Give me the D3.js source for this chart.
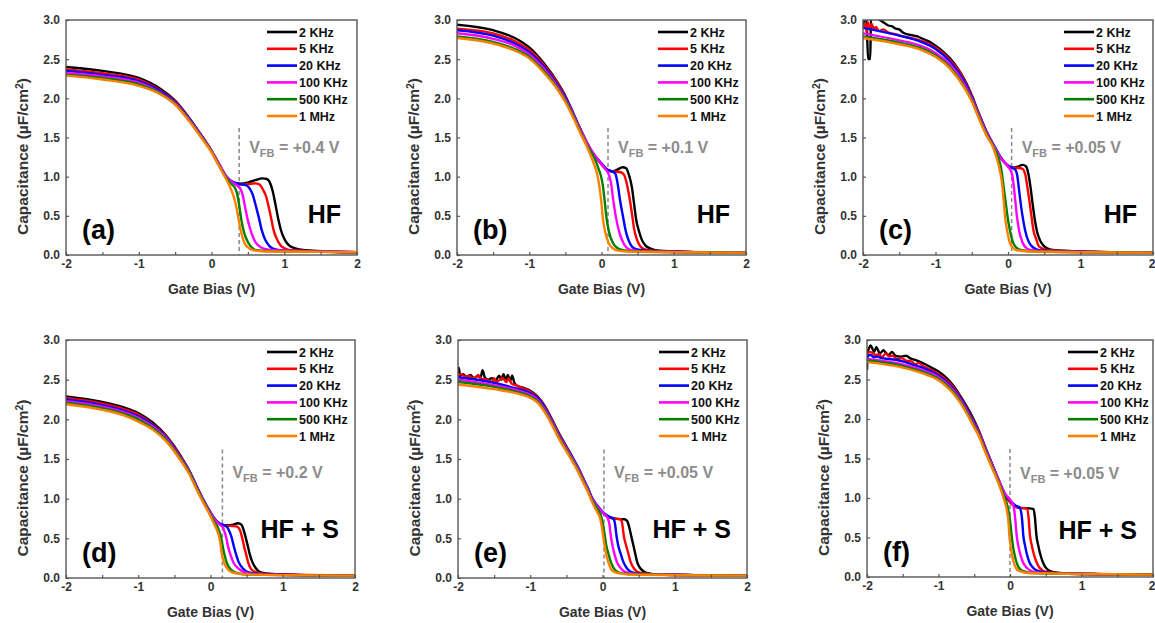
<!DOCTYPE html>
<html>
<head>
<meta charset="utf-8">
<script src="https://cdn.jsdelivr.net/npm/d3@7"></script>
<style>
  body { margin: 0; background: #fff; }
  svg text { font-family: "Liberation Sans", Arial, sans-serif; font-weight: bold; }
</style>
</head>
<body>
<svg id="fig" width="1155" height="623"></svg>
<script>
// legend / series info
var freqLabels = ["2 KHz", "5 KHz", "20 KHz", "100 KHz", "500 KHz", "1 MHz"];
var freqColors = ["#000000", "#ff0000", "#0000ff", "#ff00ff", "#008000", "#ff8000"];

var panelLetters = ["(a)", "(b)", "(c)", "(d)", "(e)", "(f)"];
var treatments = ["HF", "HF", "HF", "HF + S", "HF + S", "HF + S"];
var vfbLabels = ["+0.4 V", "+0.1 V", "+0.05 V", "+0.2 V", "+0.05 V", "+0.05 V"];
var vfbLinePos = [0.38, 0.09, 0.05, 0.165, 0.02, 0.0];   // where the dashed line sits

var xTicks = [-2, -1.5, -1, -0.5, 0, 0.5, 1, 1.5, 2];
var yTicks = [0, 0.5, 1, 1.5, 2, 2.5, 3];

// C-V curves, [gate bias (V), capacitance (uF/cm2)], order 2K,5K,20K,100K,500K,1M
var curvesA = [
  [[-2,2.40],[-1.5,2.35],[-1,2.26],[-0.7,2.12],[-0.5,1.97],[-0.3,1.74],[-0.15,1.54],[0,1.33],[0.1,1.16],[0.2,1.00],[0.3,0.925],[0.4,0.91],[0.5,0.925],[0.6,0.955],[0.7,0.978],[0.76,0.97],[0.8,0.93],[0.84,0.82],[0.88,0.64],[0.92,0.45],[0.96,0.3],[1.01,0.19],[1.07,0.12],[1.15,0.085],[1.3,0.06],[1.6,0.045],[2,0.035]],
  [[-2,2.37],[-1.5,2.32],[-1,2.24],[-0.7,2.10],[-0.5,1.96],[-0.3,1.73],[-0.15,1.54],[0,1.33],[0.1,1.16],[0.2,1.00],[0.3,0.925],[0.4,0.90],[0.5,0.905],[0.6,0.915],[0.66,0.90],[0.71,0.83],[0.75,0.75],[0.78,0.64],[0.82,0.47],[0.85,0.33],[0.9,0.2],[0.95,0.12],[1.02,0.08],[1.1,0.06],[1.5,0.045],[2,0.035]],
  [[-2,2.35],[-1.5,2.30],[-1,2.22],[-0.7,2.09],[-0.5,1.95],[-0.3,1.73],[-0.15,1.54],[0,1.33],[0.1,1.17],[0.2,1.01],[0.3,0.93],[0.4,0.905],[0.48,0.89],[0.53,0.84],[0.57,0.76],[0.6,0.66],[0.65,0.48],[0.69,0.32],[0.74,0.19],[0.8,0.11],[0.88,0.07],[1.0,0.055],[1.5,0.045],[2,0.035]],
  [[-2,2.32],[-1.5,2.28],[-1,2.20],[-0.7,2.07],[-0.5,1.94],[-0.3,1.72],[-0.15,1.53],[0,1.33],[0.1,1.17],[0.2,1.01],[0.3,0.92],[0.36,0.88],[0.4,0.84],[0.43,0.76],[0.46,0.62],[0.5,0.44],[0.55,0.28],[0.6,0.17],[0.66,0.11],[0.72,0.08],[0.85,0.06],[1.5,0.045],[2,0.035]],
  [[-2,2.30],[-1.5,2.26],[-1,2.18],[-0.7,2.06],[-0.5,1.93],[-0.3,1.71],[-0.15,1.52],[0,1.32],[0.1,1.15],[0.2,0.99],[0.27,0.91],[0.32,0.86],[0.35,0.79],[0.38,0.64],[0.41,0.45],[0.45,0.28],[0.51,0.15],[0.56,0.09],[0.62,0.06],[0.8,0.05],[1.5,0.04],[2,0.035]],
  [[-2,2.29],[-1.5,2.24],[-1,2.16],[-0.7,2.05],[-0.5,1.92],[-0.3,1.70],[-0.15,1.51],[0,1.31],[0.1,1.14],[0.2,0.97],[0.25,0.88],[0.3,0.76],[0.34,0.62],[0.38,0.42],[0.41,0.28],[0.45,0.16],[0.51,0.09],[0.58,0.06],[0.75,0.045],[1.5,0.04],[2,0.035]]
];

var curvesB = [
  [[-2,2.94],[-1.5,2.87],[-1.2,2.77],[-1,2.65],[-0.8,2.45],[-0.6,2.19],[-0.5,2.03],[-0.4,1.83],[-0.3,1.62],[-0.2,1.43],[-0.1,1.27],[0,1.16],[0.07,1.09],[0.15,1.065],[0.22,1.09],[0.29,1.12],[0.34,1.11],[0.38,1.02],[0.42,0.87],[0.45,0.66],[0.48,0.45],[0.52,0.3],[0.56,0.19],[0.61,0.12],[0.67,0.085],[0.8,0.055],[1.2,0.04],[2,0.03]],
  [[-2,2.89],[-1.5,2.83],[-1.2,2.73],[-1,2.62],[-0.8,2.43],[-0.6,2.18],[-0.5,2.02],[-0.4,1.82],[-0.3,1.62],[-0.2,1.43],[-0.1,1.27],[0,1.16],[0.07,1.09],[0.15,1.065],[0.25,1.06],[0.3,1.04],[0.34,0.95],[0.37,0.82],[0.4,0.66],[0.43,0.47],[0.45,0.34],[0.49,0.2],[0.53,0.12],[0.58,0.08],[0.66,0.06],[0.9,0.045],[2,0.03]],
  [[-2,2.87],[-1.5,2.80],[-1.2,2.70],[-1,2.59],[-0.8,2.41],[-0.6,2.16],[-0.5,2.01],[-0.4,1.82],[-0.3,1.62],[-0.2,1.43],[-0.1,1.28],[0,1.17],[0.07,1.10],[0.14,1.07],[0.19,1.04],[0.22,0.93],[0.26,0.68],[0.3,0.48],[0.33,0.33],[0.37,0.2],[0.42,0.11],[0.48,0.075],[0.55,0.06],[0.8,0.045],[2,0.03]],
  [[-2,2.83],[-1.5,2.76],[-1.2,2.67],[-1,2.56],[-0.8,2.38],[-0.6,2.14],[-0.5,1.99],[-0.4,1.81],[-0.3,1.61],[-0.2,1.43],[-0.1,1.28],[0,1.16],[0.06,1.09],[0.1,1.03],[0.13,0.93],[0.16,0.72],[0.2,0.48],[0.25,0.28],[0.3,0.16],[0.35,0.09],[0.42,0.06],[0.6,0.045],[2,0.03]],
  [[-2,2.79],[-1.5,2.72],[-1.2,2.63],[-1,2.53],[-0.8,2.35],[-0.6,2.12],[-0.5,1.97],[-0.4,1.79],[-0.3,1.59],[-0.2,1.40],[-0.1,1.24],[-0.04,1.10],[0,0.98],[0.02,0.88],[0.045,0.68],[0.07,0.47],[0.1,0.31],[0.16,0.15],[0.22,0.09],[0.28,0.065],[0.45,0.045],[2,0.03]],
  [[-2,2.77],[-1.5,2.70],[-1.2,2.61],[-1,2.51],[-0.8,2.33],[-0.6,2.10],[-0.5,1.95],[-0.4,1.77],[-0.3,1.57],[-0.2,1.38],[-0.12,1.2],[-0.06,1.03],[-0.03,0.88],[0,0.66],[0.02,0.46],[0.05,0.3],[0.1,0.15],[0.15,0.09],[0.21,0.06],[0.35,0.045],[2,0.03]]
];

var curvesC = [
  [[-2,2.93],[-1.97,3.02],[-1.95,2.97],[-1.93,2.5],[-1.9,2.5],[-1.89,3.02],[-1.85,3.03],[-1.8,3.02],[-1.75,2.99],[-1.7,2.96],[-1.65,2.93],[-1.6,2.92],[-1.55,2.89],[-1.5,2.88],[-1.45,2.84],[-1.4,2.82],[-1.35,2.81],[-1.3,2.8],[-1.25,2.79],[-1.2,2.77],[-1.1,2.73],[-1,2.67],[-0.9,2.6],[-0.8,2.51],[-0.7,2.39],[-0.6,2.24],[-0.5,2.04],[-0.4,1.8],[-0.3,1.58],[-0.2,1.4],[-0.1,1.24],[0,1.14],[0.07,1.115],[0.14,1.13],[0.2,1.15],[0.25,1.13],[0.28,1.04],[0.31,0.87],[0.34,0.65],[0.37,0.45],[0.4,0.3],[0.44,0.19],[0.49,0.12],[0.54,0.085],[0.65,0.06],[1,0.045],[2,0.03]],
  [[-2,2.90],[-1.97,2.95],[-1.95,2.85],[-1.93,2.97],[-1.91,2.88],[-1.88,2.95],[-1.85,2.88],[-1.82,2.91],[-1.78,2.86],[-1.72,2.88],[-1.65,2.84],[-1.55,2.82],[-1.45,2.79],[-1.35,2.77],[-1.25,2.75],[-1.15,2.72],[-1,2.65],[-0.9,2.58],[-0.8,2.49],[-0.7,2.38],[-0.6,2.23],[-0.5,2.03],[-0.4,1.8],[-0.3,1.58],[-0.2,1.4],[-0.1,1.24],[0,1.14],[0.07,1.11],[0.15,1.11],[0.2,1.10],[0.24,1.02],[0.27,0.85],[0.3,0.66],[0.33,0.45],[0.35,0.32],[0.39,0.2],[0.42,0.12],[0.48,0.08],[0.56,0.06],[0.9,0.045],[2,0.03]],
  [[-2,2.90],[-1.5,2.80],[-1.2,2.72],[-1,2.63],[-0.8,2.47],[-0.6,2.21],[-0.5,2.02],[-0.4,1.79],[-0.3,1.58],[-0.2,1.41],[-0.1,1.25],[0,1.14],[0.06,1.11],[0.1,1.09],[0.13,1.0],[0.15,0.85],[0.175,0.66],[0.2,0.5],[0.235,0.32],[0.28,0.18],[0.33,0.11],[0.4,0.07],[0.5,0.055],[0.8,0.045],[2,0.03]],
  [[-2,2.83],[-1.5,2.74],[-1.2,2.67],[-1,2.58],[-0.8,2.43],[-0.6,2.18],[-0.5,2.0],[-0.4,1.78],[-0.3,1.57],[-0.2,1.4],[-0.1,1.24],[0,1.13],[0.05,1.05],[0.08,0.88],[0.1,0.7],[0.125,0.48],[0.156,0.3],[0.2,0.16],[0.26,0.085],[0.33,0.06],[0.5,0.045],[2,0.03]],
  [[-2,2.79],[-1.5,2.71],[-1.2,2.64],[-1,2.55],[-0.8,2.40],[-0.6,2.15],[-0.5,1.98],[-0.4,1.76],[-0.3,1.55],[-0.2,1.38],[-0.13,1.24],[-0.09,1.08],[-0.06,0.87],[-0.03,0.66],[0,0.45],[0.03,0.3],[0.074,0.15],[0.12,0.09],[0.19,0.06],[0.35,0.045],[2,0.03]],
  [[-2,2.77],[-1.5,2.69],[-1.2,2.62],[-1,2.53],[-0.8,2.38],[-0.6,2.13],[-0.5,1.96],[-0.4,1.74],[-0.3,1.53],[-0.2,1.36],[-0.15,1.22],[-0.11,1.07],[-0.08,0.9],[-0.06,0.7],[-0.04,0.48],[-0.01,0.3],[0.028,0.15],[0.07,0.09],[0.12,0.06],[0.3,0.045],[2,0.03]]
];

var curvesD = [
  [[-2,2.29],[-1.5,2.22],[-1.2,2.15],[-1,2.08],[-0.8,1.96],[-0.6,1.78],[-0.42,1.55],[-0.3,1.36],[-0.2,1.17],[-0.1,0.98],[0,0.82],[0.08,0.72],[0.13,0.68],[0.2,0.665],[0.3,0.67],[0.38,0.69],[0.43,0.67],[0.46,0.6],[0.49,0.5],[0.52,0.39],[0.54,0.31],[0.58,0.2],[0.615,0.14],[0.66,0.09],[0.71,0.068],[0.85,0.05],[1.2,0.04],[2,0.03]],
  [[-2,2.27],[-1.5,2.20],[-1.2,2.13],[-1,2.06],[-0.8,1.94],[-0.6,1.77],[-0.42,1.54],[-0.3,1.36],[-0.2,1.17],[-0.1,0.98],[0,0.82],[0.08,0.72],[0.13,0.68],[0.2,0.66],[0.3,0.655],[0.36,0.65],[0.41,0.6],[0.44,0.5],[0.47,0.38],[0.49,0.31],[0.52,0.2],[0.55,0.13],[0.6,0.085],[0.66,0.065],[0.8,0.05],[2,0.03]],
  [[-2,2.25],[-1.5,2.18],[-1.2,2.11],[-1,2.04],[-0.8,1.93],[-0.6,1.76],[-0.42,1.53],[-0.3,1.36],[-0.2,1.17],[-0.1,0.99],[0,0.83],[0.08,0.72],[0.14,0.68],[0.2,0.66],[0.24,0.63],[0.27,0.57],[0.29,0.52],[0.32,0.41],[0.35,0.31],[0.39,0.2],[0.45,0.12],[0.5,0.08],[0.58,0.06],[0.75,0.045],[2,0.03]],
  [[-2,2.23],[-1.5,2.16],[-1.2,2.09],[-1,2.02],[-0.8,1.91],[-0.6,1.75],[-0.42,1.52],[-0.3,1.35],[-0.2,1.16],[-0.1,0.98],[0,0.82],[0.08,0.71],[0.13,0.67],[0.17,0.64],[0.19,0.59],[0.215,0.52],[0.24,0.41],[0.27,0.31],[0.32,0.19],[0.385,0.12],[0.45,0.08],[0.55,0.055],[0.8,0.04],[2,0.03]],
  [[-2,2.21],[-1.5,2.14],[-1.2,2.07],[-1,2.00],[-0.8,1.89],[-0.6,1.73],[-0.42,1.51],[-0.3,1.34],[-0.2,1.15],[-0.1,0.97],[0,0.8],[0.06,0.7],[0.1,0.64],[0.125,0.58],[0.145,0.52],[0.165,0.42],[0.19,0.31],[0.23,0.18],[0.29,0.1],[0.36,0.065],[0.5,0.045],[2,0.03]],
  [[-2,2.19],[-1.5,2.12],[-1.2,2.05],[-1,1.97],[-0.8,1.87],[-0.6,1.71],[-0.42,1.49],[-0.3,1.32],[-0.2,1.13],[-0.1,0.95],[0,0.78],[0.05,0.68],[0.09,0.6],[0.12,0.52],[0.14,0.42],[0.155,0.31],[0.19,0.19],[0.25,0.1],[0.3,0.07],[0.36,0.058],[0.5,0.045],[2,0.03]]
];

var curvesE = [
  [[-2,2.52],[-1.99,2.65],[-1.97,2.55],[-1.93,2.57],[-1.88,2.53],[-1.83,2.56],[-1.78,2.52],[-1.72,2.55],[-1.69,2.52],[-1.66,2.62],[-1.63,2.53],[-1.58,2.50],[-1.53,2.52],[-1.48,2.49],[-1.43,2.55],[-1.4,2.50],[-1.37,2.57],[-1.34,2.49],[-1.31,2.56],[-1.28,2.48],[-1.25,2.55],[-1.22,2.46],[-1.18,2.42],[-1.14,2.41],[-1.1,2.40],[-1.05,2.38],[-1,2.36],[-0.9,2.29],[-0.8,2.17],[-0.7,2.0],[-0.6,1.82],[-0.45,1.58],[-0.35,1.41],[-0.265,1.25],[-0.2,1.12],[-0.15,1.01],[-0.06,0.89],[0.03,0.8],[0.1,0.76],[0.2,0.745],[0.3,0.74],[0.34,0.72],[0.37,0.64],[0.4,0.52],[0.43,0.4],[0.45,0.32],[0.48,0.2],[0.51,0.14],[0.56,0.09],[0.61,0.065],[0.75,0.045],[2,0.03]],
  [[-2,2.55],[-1.96,2.57],[-1.9,2.54],[-1.85,2.55],[-1.8,2.52],[-1.75,2.53],[-1.72,2.56],[-1.68,2.51],[-1.6,2.50],[-1.52,2.47],[-1.5,2.52],[-1.47,2.47],[-1.42,2.5],[-1.38,2.52],[-1.33,2.47],[-1.3,2.52],[-1.26,2.45],[-1.2,2.43],[-1.1,2.39],[-1,2.35],[-0.9,2.28],[-0.8,2.16],[-0.7,1.99],[-0.6,1.81],[-0.45,1.57],[-0.35,1.41],[-0.265,1.25],[-0.2,1.12],[-0.15,1.01],[-0.06,0.89],[0.03,0.8],[0.1,0.76],[0.2,0.745],[0.25,0.74],[0.27,0.70],[0.297,0.52],[0.33,0.4],[0.357,0.31],[0.39,0.2],[0.435,0.12],[0.48,0.08],[0.55,0.06],[0.75,0.045],[2,0.03]],
  [[-2,2.53],[-1.5,2.46],[-1.2,2.39],[-1,2.33],[-0.9,2.27],[-0.8,2.15],[-0.7,1.98],[-0.6,1.80],[-0.45,1.57],[-0.35,1.41],[-0.265,1.25],[-0.2,1.13],[-0.15,1.02],[-0.06,0.9],[0.03,0.81],[0.1,0.77],[0.15,0.75],[0.17,0.7],[0.196,0.52],[0.22,0.4],[0.25,0.31],[0.29,0.2],[0.34,0.12],[0.4,0.075],[0.5,0.055],[0.75,0.045],[2,0.03]],
  [[-2,2.50],[-1.5,2.43],[-1.2,2.37],[-1,2.31],[-0.9,2.25],[-0.8,2.13],[-0.7,1.97],[-0.6,1.79],[-0.45,1.56],[-0.35,1.40],[-0.265,1.24],[-0.2,1.12],[-0.15,1.01],[-0.06,0.89],[0.03,0.8],[0.07,0.76],[0.095,0.68],[0.117,0.52],[0.14,0.4],[0.163,0.31],[0.2,0.2],[0.256,0.12],[0.32,0.075],[0.42,0.055],[0.7,0.045],[2,0.03]],
  [[-2,2.47],[-1.5,2.41],[-1.2,2.35],[-1,2.29],[-0.9,2.23],[-0.8,2.11],[-0.7,1.95],[-0.6,1.77],[-0.45,1.54],[-0.35,1.38],[-0.265,1.22],[-0.2,1.1],[-0.15,0.99],[-0.06,0.86],[-0.02,0.78],[0.01,0.66],[0.034,0.52],[0.055,0.4],[0.08,0.31],[0.12,0.19],[0.173,0.1],[0.24,0.065],[0.35,0.05],[2,0.03]],
  [[-2,2.44],[-1.5,2.38],[-1.2,2.33],[-1,2.27],[-0.9,2.21],[-0.8,2.09],[-0.7,1.93],[-0.6,1.75],[-0.45,1.52],[-0.35,1.36],[-0.265,1.2],[-0.2,1.08],[-0.15,0.97],[-0.08,0.84],[-0.03,0.74],[-0.005,0.62],[0.011,0.52],[0.03,0.4],[0.048,0.31],[0.08,0.2],[0.126,0.1],[0.18,0.07],[0.24,0.058],[0.35,0.045],[2,0.03]]
];

var curvesF = [
  [[-2,2.62],[-1.99,2.83],[-1.97,2.9],[-1.95,2.93],[-1.92,2.88],[-1.9,2.85],[-1.87,2.91],[-1.82,2.83],[-1.77,2.87],[-1.74,2.84],[-1.7,2.81],[-1.65,2.85],[-1.6,2.8],[-1.52,2.79],[-1.45,2.8],[-1.4,2.77],[-1.3,2.74],[-1.2,2.7],[-1.1,2.65],[-1,2.6],[-0.9,2.53],[-0.8,2.43],[-0.7,2.3],[-0.6,2.15],[-0.5,1.98],[-0.44,1.86],[-0.35,1.65],[-0.256,1.44],[-0.163,1.23],[-0.07,1.03],[0,0.95],[0.07,0.89],[0.15,0.875],[0.25,0.87],[0.33,0.86],[0.35,0.74],[0.37,0.52],[0.395,0.4],[0.42,0.3],[0.45,0.21],[0.49,0.13],[0.54,0.085],[0.61,0.06],[0.8,0.045],[2,0.03]],
  [[-2,2.8],[-1.97,2.85],[-1.93,2.84],[-1.88,2.81],[-1.83,2.82],[-1.79,2.78],[-1.74,2.83],[-1.69,2.79],[-1.64,2.8],[-1.58,2.76],[-1.52,2.77],[-1.45,2.74],[-1.38,2.73],[-1.32,2.69],[-1.28,2.71],[-1.2,2.66],[-1.1,2.62],[-1,2.57],[-0.9,2.5],[-0.8,2.41],[-0.7,2.28],[-0.6,2.13],[-0.5,1.96],[-0.44,1.85],[-0.35,1.65],[-0.256,1.44],[-0.163,1.23],[-0.07,1.03],[0,0.95],[0.07,0.89],[0.15,0.875],[0.24,0.865],[0.26,0.75],[0.28,0.52],[0.305,0.4],[0.33,0.3],[0.37,0.19],[0.41,0.12],[0.46,0.08],[0.53,0.06],[0.75,0.045],[2,0.03]],
  [[-2,2.79],[-1.95,2.81],[-1.9,2.78],[-1.85,2.79],[-1.8,2.77],[-1.7,2.76],[-1.6,2.75],[-1.5,2.73],[-1.4,2.70],[-1.2,2.64],[-1,2.55],[-0.9,2.48],[-0.8,2.39],[-0.7,2.27],[-0.6,2.12],[-0.5,1.95],[-0.44,1.84],[-0.35,1.64],[-0.256,1.44],[-0.163,1.24],[-0.07,1.05],[0,0.97],[0.07,0.91],[0.14,0.87],[0.17,0.72],[0.187,0.52],[0.21,0.4],[0.233,0.3],[0.27,0.19],[0.32,0.12],[0.38,0.08],[0.46,0.06],[0.7,0.045],[2,0.03]],
  [[-2,2.76],[-1.5,2.69],[-1.2,2.61],[-1,2.53],[-0.9,2.46],[-0.8,2.37],[-0.7,2.25],[-0.6,2.1],[-0.5,1.93],[-0.44,1.83],[-0.35,1.63],[-0.256,1.43],[-0.163,1.24],[-0.07,1.06],[0,0.98],[0.05,0.9],[0.075,0.72],[0.094,0.52],[0.115,0.4],[0.14,0.3],[0.18,0.19],[0.23,0.12],[0.3,0.075],[0.4,0.055],[0.7,0.045],[2,0.03]],
  [[-2,2.74],[-1.5,2.67],[-1.2,2.59],[-1,2.51],[-0.9,2.44],[-0.8,2.35],[-0.7,2.23],[-0.6,2.08],[-0.5,1.91],[-0.44,1.81],[-0.35,1.61],[-0.256,1.41],[-0.163,1.21],[-0.08,1.02],[-0.03,0.88],[0,0.72],[0.024,0.52],[0.04,0.4],[0.06,0.3],[0.09,0.19],[0.14,0.1],[0.2,0.07],[0.3,0.05],[2,0.03]],
  [[-2,2.72],[-1.5,2.65],[-1.2,2.57],[-1,2.49],[-0.9,2.42],[-0.8,2.33],[-0.7,2.21],[-0.6,2.06],[-0.5,1.89],[-0.44,1.79],[-0.35,1.59],[-0.256,1.39],[-0.163,1.19],[-0.09,1.0],[-0.045,0.85],[-0.02,0.68],[-0.009,0.52],[0.008,0.4],[0.024,0.3],[0.05,0.19],[0.093,0.1],[0.15,0.07],[0.25,0.05],[2,0.03]]
];

var allCurves = [curvesA, curvesB, curvesC, curvesD, curvesE, curvesF];

// layout of each frame in the page (pixels)
var boxes = [
  {l: 66,  r: 357,  t: 20,  b: 255, vy: 133, hy: 32},
  {l: 457, r: 746,  t: 20,  b: 255, vy: 133, hy: 32},
  {l: 863, r: 1153, t: 20,  b: 255, vy: 133, hy: 32},
  {l: 66,  r: 355,  t: 340, b: 578, vy: 138, hy: 40},
  {l: 458, r: 747,  t: 340, b: 578, vy: 138, hy: 40},
  {l: 867, r: 1153, t: 340, b: 577, vy: 139, hy: 38}
];

var svg = d3.select("#fig");

function drawPanel(i) {
  var bx = boxes[i];
  var x = d3.scaleLinear().domain([-2, 2]).range([bx.l, bx.r]);
  var y = d3.scaleLinear().domain([0, 3]).range([bx.b, bx.t]);
  var g = svg.append("g");

  g.append("clipPath").attr("id", "clip" + i)
    .append("rect")
    .attr("x", bx.l).attr("y", bx.t)
    .attr("width", bx.r - bx.l).attr("height", bx.b - bx.t);

  var line = d3.line()
    .x(function(d) { return x(d[0]); })
    .y(function(d) { return y(d[1]); })
    .curve(d3.curveMonotoneX);

  // dashed flat-band line
  g.append("line")
    .attr("x1", x(vfbLinePos[i])).attr("x2", x(vfbLinePos[i]))
    .attr("y1", y(1.62)).attr("y2", y(0))
    .attr("stroke", "#888").attr("stroke-width", 1.5)
    .attr("stroke-dasharray", "4,3");

  g.append("g").attr("clip-path", "url(#clip" + i + ")")
    .selectAll("path")
    .data(allCurves[i])
    .enter().append("path")
    .attr("d", line)
    .attr("fill", "none")
    .attr("stroke", function(d, k) { return freqColors[k]; })
    .attr("stroke-width", 2.4)
    .attr("stroke-linejoin", "round");

  // axes with inward ticks
  var xAxis = d3.axisBottom(x).tickValues(xTicks)
    .tickSizeInner(-3).tickSizeOuter(0).tickPadding(4)
    .tickFormat(function(d) { return Number.isInteger(d) ? String(d) : ""; });
  var yAxis = d3.axisLeft(y).tickValues(yTicks)
    .tickSizeInner(-3).tickSizeOuter(0).tickPadding(6)
    .tickFormat(d3.format(".1f"));

  var gx = g.append("g").attr("transform", "translate(0," + bx.b + ")").call(xAxis);
  var gy = g.append("g").attr("transform", "translate(" + bx.l + ",0)").call(yAxis);
  [gx, gy].forEach(function(a) {
    a.select(".domain").remove();
    a.selectAll(".tick line").attr("stroke", "#555").attr("stroke-width", 1.2);
    a.selectAll(".tick text").attr("fill", "#333").style("font-size", "12px");
  });
  // last label sits at the page edge in the right column
  if (bx.r > 1150) {
    gx.selectAll(".tick text").filter(function(d) { return d === 2; })
      .attr("text-anchor", "end").attr("x", 2);
  }

  g.append("rect")
    .attr("x", bx.l).attr("y", bx.t)
    .attr("width", bx.r - bx.l).attr("height", bx.b - bx.t)
    .attr("fill", "none").attr("stroke", "#555").attr("stroke-width", 1.4);

  // axis titles
  g.append("text")
    .attr("x", (bx.l + bx.r) / 2).attr("y", bx.b + 39)
    .attr("text-anchor", "middle").style("font-size", "14px").attr("fill", "#333")
    .text("Gate Bias (V)");

  var yt = g.append("text")
    .attr("transform", "translate(" + (bx.l - 38) + "," + ((bx.t + bx.b) / 2 + 19) + ") rotate(-90)")
    .attr("text-anchor", "middle").style("font-size", "15.5px").attr("fill", "#333");
  yt.append("tspan").text("Capacitance (\u00B5F/cm");
  yt.append("tspan").attr("dy", "-0.45em").style("font-size", "10.5px").text("2");
  yt.append("tspan").attr("dy", "0.32em").text(")");

  // legend
  var lg = g.append("g");
  freqLabels.forEach(function(lab, k) {
    var ly = bx.t + 12 + k * 16.8;
    lg.append("line")
      .attr("x1", bx.l + 201).attr("x2", bx.l + 231)
      .attr("y1", ly).attr("y2", ly)
      .attr("stroke", freqColors[k]).attr("stroke-width", 2.6);
    lg.append("text")
      .attr("x", bx.l + 233).attr("y", ly).attr("dy", "0.36em")
      .style("font-size", "12.5px").attr("fill", "#111")
      .text(lab);
  });

  // V_FB annotation
  var vt = g.append("text")
    .attr("x", x(vfbLinePos[i]) + 10).attr("y", bx.t + bx.vy)
    .attr("fill", "#8c8c8c").style("font-size", "16px");
  vt.append("tspan").text("V");
  vt.append("tspan").attr("dy", 4).style("font-size", "11px").text("FB");
  vt.append("tspan").attr("dy", -4).text(" = " + vfbLabels[i]);

  // panel letter and treatment
  g.append("text")
    .attr("x", bx.l + 16).attr("y", bx.b - 16)
    .style("font-size", "27px").attr("fill", "#000")
    .text(panelLetters[i]);
  g.append("text")
    .attr("x", bx.r - 16).attr("y", bx.b - bx.hy)
    .attr("text-anchor", "end")
    .style("font-size", "25px").attr("fill", "#000")
    .text(treatments[i]);
}

for (var i = 0; i < 6; i++) drawPanel(i);
</script>
</body>
</html>
